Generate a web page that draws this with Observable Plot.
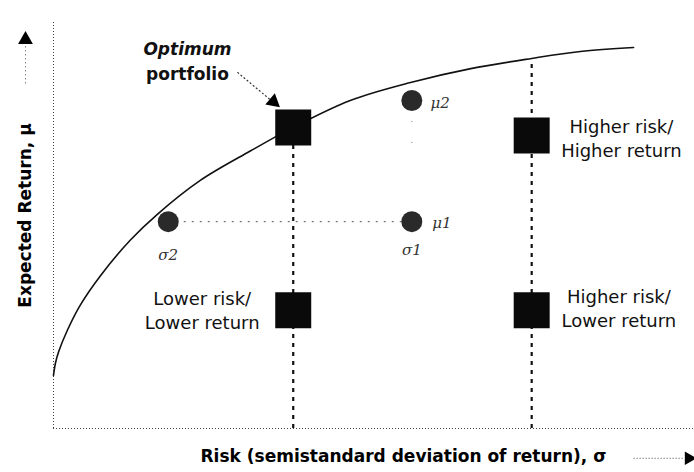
<!DOCTYPE html>
<html>
<head>
<meta charset="utf-8">
<script src="https://cdn.jsdelivr.net/npm/d3@7"></script>
<script src="https://cdn.jsdelivr.net/npm/@observablehq/plot@0.6"></script>
<style>
  html, body { margin: 0; padding: 0; background: #fff; }
  #chart svg { display: block; }
</style>
</head>
<body>
<div id="chart"></div>
<script>
// Efficient frontier (risk vs expected return)
const frontierRisk   = [0, 0.03, 0.08, 0.22, 0.42, 0.73, 1.2, 1.62, 2.29, 3.07, 3.74, 4.63, 5.57, 6.51, 7.46, 8.22, 9.05];
const frontierReturn = [1.3, 1.6, 1.88, 2.42, 3.03, 3.74, 4.62, 5.25, 6.08, 6.8, 7.38, 8.04, 8.48, 8.82, 9.07, 9.24, 9.34];

// Portfolios drawn as squares
const portfolioNames  = ["Optimum", "Higher risk/Higher return", "Lower risk/Lower return", "Higher risk/Lower return"];
const portfolioRisk   = [3.74, 7.46, 3.74, 7.46];
const portfolioReturn = [7.38, 7.18, 2.9, 2.9];

// Comparison points drawn as circles
const pointNames  = ["σ2 point", "μ1 point", "μ2 point"];
const pointRisk   = [1.79, 5.59, 5.59];
const pointReturn = [5.07, 5.07, 8.04];

// Box labels beside the squares
const boxLabels      = ["Higher risk/\nHigher return", "Lower risk/\nLower return", "Higher risk/\nLower return"];
const boxLabelRisk   = [8.86, 2.32, 8.82];
const boxLabelReturn = [7.13, 2.93, 2.97];

// Symbol labels: to the right of circles (μ) and below circles (σ)
const muLabels      = ["μ2", "μ1"];
const muLabelRisk   = [5.88, 5.91];
const muLabelReturn = [7.97, 5.02];
const sigmaLabels      = ["σ2", "σ1"];
const sigmaLabelRisk   = [1.79, 5.59];
const sigmaLabelReturn = [4.26, 4.36];

// Axis / annotation texts
const xTitle = "Risk (semistandard deviation of return), σ";
const yTitle = "Expected Return, μ";
const optimumLines = ["Optimum", "portfolio"];

const frontier = frontierRisk.map((r, i) => ({risk: r, ret: frontierReturn[i]}));
const portfolios = portfolioNames.map((n, i) => ({name: n, risk: portfolioRisk[i], ret: portfolioReturn[i]}));
const points = pointNames.map((n, i) => ({name: n, risk: pointRisk[i], ret: pointReturn[i]}));
const boxes = boxLabels.map((t, i) => ({text: t, risk: boxLabelRisk[i], ret: boxLabelReturn[i]}));
const mus = muLabels.map((t, i) => ({text: t, risk: muLabelRisk[i], ret: muLabelReturn[i]}));
const sigmas = sigmaLabels.map((t, i) => ({text: t, risk: sigmaLabelRisk[i], ret: sigmaLabelReturn[i]}));

const sans = "DejaVu Sans, Verdana, sans-serif";

const chart = Plot.plot({
  width: 694,
  height: 472,
  marginLeft: 53,
  marginRight: 0,
  marginTop: 20,
  marginBottom: 44,
  x: {domain: [0, 10], axis: null},
  y: {domain: [0, 10], axis: null},
  style: {background: "#fff", color: "#000", fontFamily: sans},
  marks: [
    // axis lines (dotted)
    Plot.ruleX([0], {y1: 0, y2: 10, stroke: "#444", strokeWidth: 1, strokeDasharray: "1,2"}),
    Plot.ruleY([0], {x1: 0, x2: 10, stroke: "#444", strokeWidth: 1, strokeDasharray: "1,2"}),
    // dashed verticals from squares to the risk axis
    Plot.ruleX([portfolios[0]], {x: "risk", y1: 0, y2: "ret", stroke: "#111", strokeWidth: 2.2, strokeDasharray: "4,5"}),
    Plot.ruleX([portfolios[1]], {x: "risk", y1: 0, y2: frontierReturn[14], stroke: "#111", strokeWidth: 2.2, strokeDasharray: "4,5"}),
    // dotted connector between σ2 point and μ1 point
    Plot.ruleY([points[0]], {y: "ret", x1: "risk", x2: pointRisk[1], stroke: "#555", strokeWidth: 1, strokeDasharray: "2,6"}),
    // faint dotted drop from μ2 point
    Plot.ruleX([points[2]], {x: "risk", y1: "ret", y2: 6.62, stroke: "#777", strokeWidth: 1, strokeDasharray: "1,20"}),
    // efficient frontier
    Plot.line(frontier, {x: "risk", y: "ret", curve: "catmull-rom", stroke: "#111", strokeWidth: 1.6}),
    // squares
    Plot.dot(portfolios, {x: "risk", y: "ret", symbol: "square", r: 20.3, fill: "#0a0a0a", stroke: "none"}),
    // circles
    Plot.dot(points, {x: "risk", y: "ret", r: 10.5, fill: "#2a2a2a", stroke: "none"}),
    // box labels
    Plot.text(boxes, {x: "risk", y: "ret", text: "text", fontSize: 18, lineHeight: 1.33, textAnchor: "middle", lineAnchor: "middle", fill: "#111", fontFamily: sans}),
    // symbol labels
    Plot.text(mus, {x: "risk", y: "ret", text: "text", textAnchor: "start", fontSize: 15, fontStyle: "italic", fill: "#333", fontFamily: "DejaVu Serif, serif"}),
    Plot.text(sigmas, {x: "risk", y: "ret", text: "text", textAnchor: "middle", fontSize: 15, fontStyle: "italic", fill: "#333", fontFamily: "DejaVu Serif, serif"}),
    // Optimum portfolio annotation
    Plot.text([optimumLines[0]], {x: 2.09, y: 9.29, text: d => d, fontSize: 17, fontWeight: "bold", fontStyle: "italic", fill: "#111", fontFamily: sans}),
    Plot.text([optimumLines[1]], {x: 2.09, y: 8.68, text: d => d, fontSize: 17, fontWeight: "bold", fill: "#111", fontFamily: sans}),
    Plot.link([0], {x1: 2.87, y1: 8.73, x2: 3.38, y2: 8.06, stroke: "#333", strokeWidth: 1.2, strokeDasharray: "2,2"}),
    Plot.dot([0], {x: 3.43, y: 8.01, symbol: "triangle", r: 5.5, rotate: 130, fill: "#000"}),
    // axis titles
    Plot.text([xTitle], {x: 5.46, y: -0.69, text: d => d, fontSize: 17, fontWeight: "bold", fill: "#000", fontFamily: sans}),
    Plot.text([yTitle], {x: -0.437, y: 5.22, text: d => d, rotate: -90, fontSize: 17, fontWeight: "bold", fill: "#000", fontFamily: sans}),
    // axis arrows
    Plot.link([0], {x1: 9.05, y1: -0.73, x2: 9.84, y2: -0.73, stroke: "#444", strokeWidth: 1, strokeDasharray: "1,2"}),
    Plot.dot([0], {x: 9.91, y: -0.73, symbol: "triangle", r: 5, rotate: 90, fill: "#000"}),
    Plot.link([0], {x1: -0.437, y1: 8.46, x2: -0.437, y2: 9.39, stroke: "#444", strokeWidth: 1, strokeDasharray: "1,3"}),
    Plot.dot([0], {x: -0.437, y: 9.53, symbol: "triangle", r: 5.5, fill: "#000"})
  ]
});
document.getElementById("chart").appendChild(chart);
</script>
</body>
</html>
